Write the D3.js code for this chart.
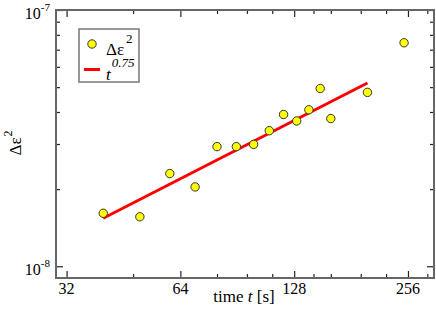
<!DOCTYPE html>
<meta charset="utf-8">
<style>
    body { margin: 0; background: #fff; }
    svg { font-family: "Liberation Serif", "DejaVu Serif", serif; }
    .tick line { stroke: #222; stroke-width: 1.2px; }
</style>
<svg width="436" height="315">
    <rect fill="#fff" width="100%" height="100%"></rect>
</svg>
<script src="https://cdn.jsdelivr.net/npm/d3@7"></script>
<script>

    // measured points (time in s, delta epsilon squared)
    var times = [40, 50, 60, 70, 80, 90, 100, 110, 120, 130, 140, 150, 160, 200, 250];
    var deltaEps = [1.61e-8, 1.56e-8, 2.30e-8, 2.04e-8, 2.93e-8, 2.93e-8, 2.99e-8, 3.38e-8,
                    3.91e-8, 3.69e-8, 4.08e-8, 4.94e-8, 3.77e-8, 4.77e-8, 7.45e-8];

    // ends of the t^0.75 fit line
    var fitTimes = [40, 200];
    var fitValues = [1.54e-8, 5.19e-8];

    var xMajor = [32, 64, 128, 256];
    var xMinor = [48, 80, 96, 112, 144, 160, 192, 224, 288];
    var yMajor = [1e-8, 1e-7];
    var yMajorExp = ["-8", "-7"];
    var yMinor = [2e-8, 3e-8, 4e-8, 5e-8, 6e-8, 7e-8, 8e-8, 9e-8];

    var svg = d3.select("svg");
    // plot frame (window.top is reserved, so other names)
    var pLeft = 56, pRight = 434, pTop = 10, pBottom = 278;

    var x = d3.scaleLog().base(2).domain([30, 300]).range([pLeft, pRight]);
    var y = d3.scaleLog().domain([9e-9, 1e-7]).range([pBottom, pTop]);

    // ticks on all four sides, pointing inwards
    function ticks(axis, vals, size, tr) {
        var g = svg.append("g")
                .attr("transform", tr)
                .call(axis.tickValues(vals).tickSize(-size).tickSizeOuter(0).tickFormat(""));
        g.select(".domain").remove();
        return g;
    }
    ticks(d3.axisBottom(x), xMajor, 7, "translate(0," + pBottom + ")");
    ticks(d3.axisBottom(x), xMinor, 4, "translate(0," + pBottom + ")");
    ticks(d3.axisTop(x), xMajor, 7, "translate(0," + pTop + ")");
    ticks(d3.axisTop(x), xMinor, 4, "translate(0," + pTop + ")");
    ticks(d3.axisLeft(y), yMajor, 7, "translate(" + pLeft + ",0)");
    ticks(d3.axisLeft(y), yMinor, 4, "translate(" + pLeft + ",0)");
    ticks(d3.axisRight(y), yMajor, 7, "translate(" + pRight + ",0)");
    ticks(d3.axisRight(y), yMinor, 4, "translate(" + pRight + ",0)");

    svg.append("rect")
            .attr("x", pLeft).attr("y", pTop)
            .attr("width", pRight - pLeft).attr("height", pBottom - pTop)
            .attr("fill", "none").attr("stroke", "#666").attr("stroke-width", 2);

    // tick labels
    svg.append("g").selectAll("text").data(xMajor).join("text")
            .attr("x", function (d) { return x(d); })
            .attr("y", 294)
            .attr("text-anchor", "middle")
            .attr("font-size", 16)
            .text(function (d) { return d; });

    var yl = svg.append("g").selectAll("text").data(yMajor).join("text")
            .attr("x", 50)
            .attr("y", function (d) { return y(d) + 9; })
            .attr("text-anchor", "end")
            .attr("font-size", 16);
    yl.append("tspan").text("10");
    yl.append("tspan").attr("font-size", 11).attr("dy", -8)
            .text(function (d, i) { return yMajorExp[i]; });

    // axis titles
    var xt = svg.append("text")
            .attr("x", 244).attr("y", 302)
            .attr("text-anchor", "middle")
            .attr("font-size", 17);
    xt.append("tspan").text("time ");
    xt.append("tspan").attr("font-style", "italic").text("t");
    xt.append("tspan").text(" [s]");

    var yt = svg.append("text")
            .attr("transform", "translate(21,143) rotate(-90)")
            .attr("text-anchor", "middle")
            .attr("font-size", 17);
    yt.append("tspan").text("\u0394\u03b5");
    yt.append("tspan").attr("font-size", 12).attr("dx", 1).attr("dy", -9).text("2");

    // fit line
    var line = d3.line()
            .x(function (d) { return x(d[0]); })
            .y(function (d) { return y(d[1]); });
    svg.append("path")
            .datum(d3.zip(fitTimes, fitValues))
            .attr("d", line)
            .attr("fill", "none")
            .attr("stroke", "#f00")
            .attr("stroke-width", 3);

    svg.append("g").selectAll("circle").data(d3.zip(times, deltaEps)).join("circle")
            .attr("cx", function (d) { return x(d[0]); })
            .attr("cy", function (d) { return y(d[1]); })
            .attr("r", 4.2)
            .attr("fill", "#ff0")
            .attr("stroke", "#333")
            .attr("stroke-width", 1);

    // legend
    var lg = svg.append("g");
    lg.append("rect")
            .attr("x", 79).attr("y", 29).attr("width", 60).attr("height", 53)
            .attr("fill", "#fff").attr("stroke", "#777").attr("stroke-width", 1.5);
    lg.append("circle")
            .attr("cx", 92).attr("cy", 44).attr("r", 4.2)
            .attr("fill", "#ff0").attr("stroke", "#333");
    lg.append("line")
            .attr("x1", 84).attr("x2", 100).attr("y1", 69.5).attr("y2", 69.5)
            .attr("stroke", "#f00").attr("stroke-width", 3);
    var l1 = lg.append("text").attr("x", 106).attr("y", 54.5).attr("font-size", 17);
    l1.append("tspan").text("\u0394\u03b5");
    l1.append("tspan").attr("font-size", 13).attr("dx", 2).attr("dy", -11.5).text("2");
    var l2 = lg.append("text").attr("x", 106).attr("y", 80).attr("font-size", 17)
            .attr("font-style", "italic");
    l2.append("tspan").text("t");
    l2.append("tspan").attr("font-size", 13).attr("dx", 1).attr("dy", -13).text("0.75");

</script>
